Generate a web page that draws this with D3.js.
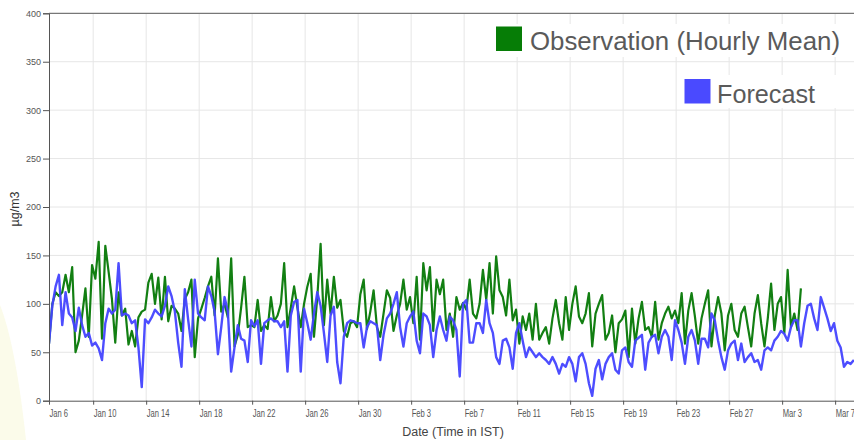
<!DOCTYPE html>
<html>
<head>
<meta charset="utf-8">
<script src="https://cdn.jsdelivr.net/npm/d3@7"></script>
<style>
  html, body { margin: 0; padding: 0; background: #fff; }
  svg { display: block; }
</style>
</head>
<body>
<svg id="chart" width="854" height="440"></svg>
<script>
// ---- DATA ----
const startTime = new Date(2023, 0, 6, 16, 0);   // first sample (IST)
const endTime = new Date(2023, 2, 8, 12, 0);     // end of visible time range
const stepHours = 6;                              // sampling step of the series below

const yTicks = [0, 50, 100, 150, 200, 250, 300, 350, 400];
const xTickDates = [
  new Date(2023, 0, 6, 16), new Date(2023, 0, 10), new Date(2023, 0, 14), new Date(2023, 0, 18),
  new Date(2023, 0, 22), new Date(2023, 0, 26), new Date(2023, 0, 30), new Date(2023, 1, 3),
  new Date(2023, 1, 7), new Date(2023, 1, 11), new Date(2023, 1, 15), new Date(2023, 1, 19),
  new Date(2023, 1, 23), new Date(2023, 1, 27), new Date(2023, 2, 3), new Date(2023, 2, 7)
];
const seriesNames = ["Observation (Hourly Mean)", "Forecast"];

const observationValues = [
  59,100,112,108,112,130,112,138,50,62,
  88,116,66,140,126,164,64,160,133,105,
  60,112,88,95,58,72,56,86,92,94,
  122,131,100,127,84,128,82,98,95,90,
  72,105,112,125,45,85,95,106,118,128,
  88,147,92,100,86,147,56,68,
  96,128,76,78,76,104,72,78,74,107,
  82,88,100,142,76,96,118,96,76,100,
  118,131,66,107,162,78,125,90,128,96,
  104,72,66,80,82,76,110,125,74,92,
  114,76,66,90,114,106,72,88,100,125,
  94,107,80,128,63,142,114,138,
  72,125,110,125,73,90,66,107,94,101,
  94,125,90,85,100,135,104,142,90,149,
  114,107,88,125,83,94,59,87,73,90,
  63,100,63,70,76,59,85,104,80,63,
  107,73,100,118,87,80,90,111,56,90,
  100,109,63,70,88,50,80,
  84,93,45,95,59,85,102,73,76,66,
  102,63,80,90,97,85,93,80,111,59,
  93,111,87,59,85,100,114,56,88,107,
  90,52,88,100,73,66,90,97,76,56,
  90,109,80,56,85,121,73,100,107,70,
  135,76,90,73,116
];

const forecastValues = [
  59,98,118,130,78,112,90,86,72,96,
  78,66,70,57,60,54,42,80,95,90,
  94,142,88,90,88,80,83,55,14,84,
  80,86,94,90,87,98,118,108,92,60,
  35,115,84,56,125,90,86,83,118,108,
  92,48,76,107,92,30,55,78,
  64,62,40,83,77,83,38,80,83,85,
  82,82,76,82,30,88,102,104,30,95,
  80,63,90,112,98,70,40,88,97,40,
  18,66,80,83,82,80,80,55,76,82,
  80,78,42,68,85,90,100,112,76,56,
  80,87,92,62,49,90,87,78,
  45,73,87,73,62,87,83,73,25,100,
  104,60,60,80,80,70,104,80,70,45,
  38,62,64,55,33,70,80,62,45,55,
  50,45,49,45,42,38,45,38,28,38,
  35,45,38,20,45,49,38,18,5,33,
  42,22,38,45,49,32,28,
  52,55,40,35,62,65,68,32,60,66,
  68,49,66,73,66,42,83,73,60,38,
  66,73,62,38,64,64,55,90,83,62,
  45,32,52,59,62,42,59,40,45,49,
  40,42,32,52,55,52,62,66,72,69,
  62,76,83,83,56,80,98,100,85,73,
  107,96,85,72,80,62,55,35,40,38,42
];

// ---- LAYOUT ----
const W = 854, H = 440;
const margin = { left: 49, right: -1, top: 13.3, bottom: 39.3 };
const svg = d3.select("#chart");

const toSeries = vals => vals.map((v, i) => ({ t: d3.timeHour.offset(startTime, i * stepHours), v }));
const obs = toSeries(observationValues);
const fc = toSeries(forecastValues);

const x = d3.scaleTime().domain([startTime, endTime]).range([margin.left, W - margin.right]);
const y = d3.scaleLinear().domain([0, 400]).range([H - margin.bottom, margin.top]);

// faint background tint at lower left
svg.append("path")
  .attr("d", "M0,305 C8,325 18,365 26,440 L0,440 Z")
  .attr("fill", "#fbfbea");

// gridlines
const grid = svg.append("g").attr("class", "grid");
grid.selectAll("line.h").data(yTicks.filter(d => d > 0 && d < 400)).join("line")
  .attr("x1", margin.left).attr("x2", W)
  .attr("y1", d => y(d)).attr("y2", d => y(d))
  .attr("stroke", "#e6e6e6").attr("stroke-width", 1);
grid.selectAll("line.v").data(xTickDates.slice(1)).join("line")
  .attr("x1", d => x(d)).attr("x2", d => x(d))
  .attr("y1", y(0)).attr("y2", y(400))
  .attr("stroke", "#e6e6e6").attr("stroke-width", 1);
// top border
svg.append("line")
  .attr("x1", margin.left).attr("x2", W)
  .attr("y1", y(400)).attr("y2", y(400))
  .attr("stroke", "#777").attr("stroke-width", 1.2);

// clip
svg.append("clipPath").attr("id", "plotclip").append("rect")
  .attr("x", margin.left).attr("y", margin.top)
  .attr("width", W - margin.left).attr("height", y(0) - margin.top);

const line = d3.line().x(d => x(d.t)).y(d => y(d.v));
const plot = svg.append("g").attr("clip-path", "url(#plotclip)");
plot.append("path").datum(obs)
  .attr("d", line).attr("fill", "none")
  .attr("stroke", "#127f12").attr("stroke-width", 2.2).attr("stroke-linejoin", "round");
plot.append("path").datum(fc)
  .attr("d", line).attr("fill", "none")
  .attr("stroke", "#4343ff").attr("stroke-width", 2.4).attr("stroke-linejoin", "round")
  .attr("stroke-opacity", 0.95);

// axes
const yAxis = svg.append("g").attr("transform", `translate(${margin.left},0)`)
  .call(d3.axisLeft(y).tickValues(yTicks).tickSize(6).tickPadding(2));
yAxis.selectAll("text").attr("font-size", 9).attr("fill", "#555")
  .attr("font-family", "'Liberation Sans', Arial, sans-serif");
yAxis.selectAll("line, path").attr("stroke", "#555");

const fmt = d3.timeFormat("%b %-d");
const xAxis = svg.append("g").attr("transform", `translate(0,${y(0)})`)
  .call(d3.axisBottom(x).tickValues(xTickDates).tickFormat(fmt).tickSize(4).tickSizeOuter(0));
xAxis.selectAll("text")
  .attr("text-anchor", "start").attr("x", 0).attr("y", 9).attr("dy", "0.71em")
  .attr("transform", "scale(0.76,1)")
  .attr("font-size", 10).attr("fill", "#555")
  .attr("font-family", "'Liberation Sans', Arial, sans-serif");
xAxis.selectAll("line, path").attr("stroke", "#555");

// axis titles
svg.append("text")
  .attr("transform", `translate(19,${(margin.top + y(0)) / 2 + 2}) rotate(-90)`)
  .attr("text-anchor", "middle")
  .attr("font-size", 12.5).attr("fill", "#333")
  .attr("font-family", "'Liberation Sans', Arial, sans-serif")
  .text("µg/m3");
svg.append("text")
  .attr("x", 453).attr("y", 436)
  .attr("text-anchor", "middle")
  .attr("font-size", 12.5).attr("fill", "#444")
  .attr("font-family", "'Liberation Sans', Arial, sans-serif")
  .text("Date (Time in IST)");

// legend
const legendItems = [
  { name: seriesNames[0], color: "#067d06", bx: 490, by: 24, bw: 364, sx: 496, sy: 26.5, tx: 530, ty: 50, tl: 310 },
  { name: seriesNames[1], color: "#4a4aff", bx: 679, by: 75, bw: 175, sx: 684.5, sy: 79, tx: 717, ty: 103, tl: 98 }
];
const lg = svg.append("g");
legendItems.forEach(it => {
  lg.append("rect").attr("x", it.bx).attr("y", it.by).attr("width", it.bw).attr("height", 33).attr("fill", "#fff");
  lg.append("rect").attr("x", it.sx).attr("y", it.sy).attr("width", 26).attr("height", 24.5).attr("fill", it.color);
  lg.append("text").attr("x", it.tx).attr("y", it.ty)
    .attr("font-size", 25).attr("fill", "#5a5a5a")
    .attr("textLength", it.tl).attr("lengthAdjust", "spacingAndGlyphs")
    .attr("font-family", "'Liberation Sans', Arial, sans-serif")
    .text(it.name);
});
</script>
</body>
</html>
